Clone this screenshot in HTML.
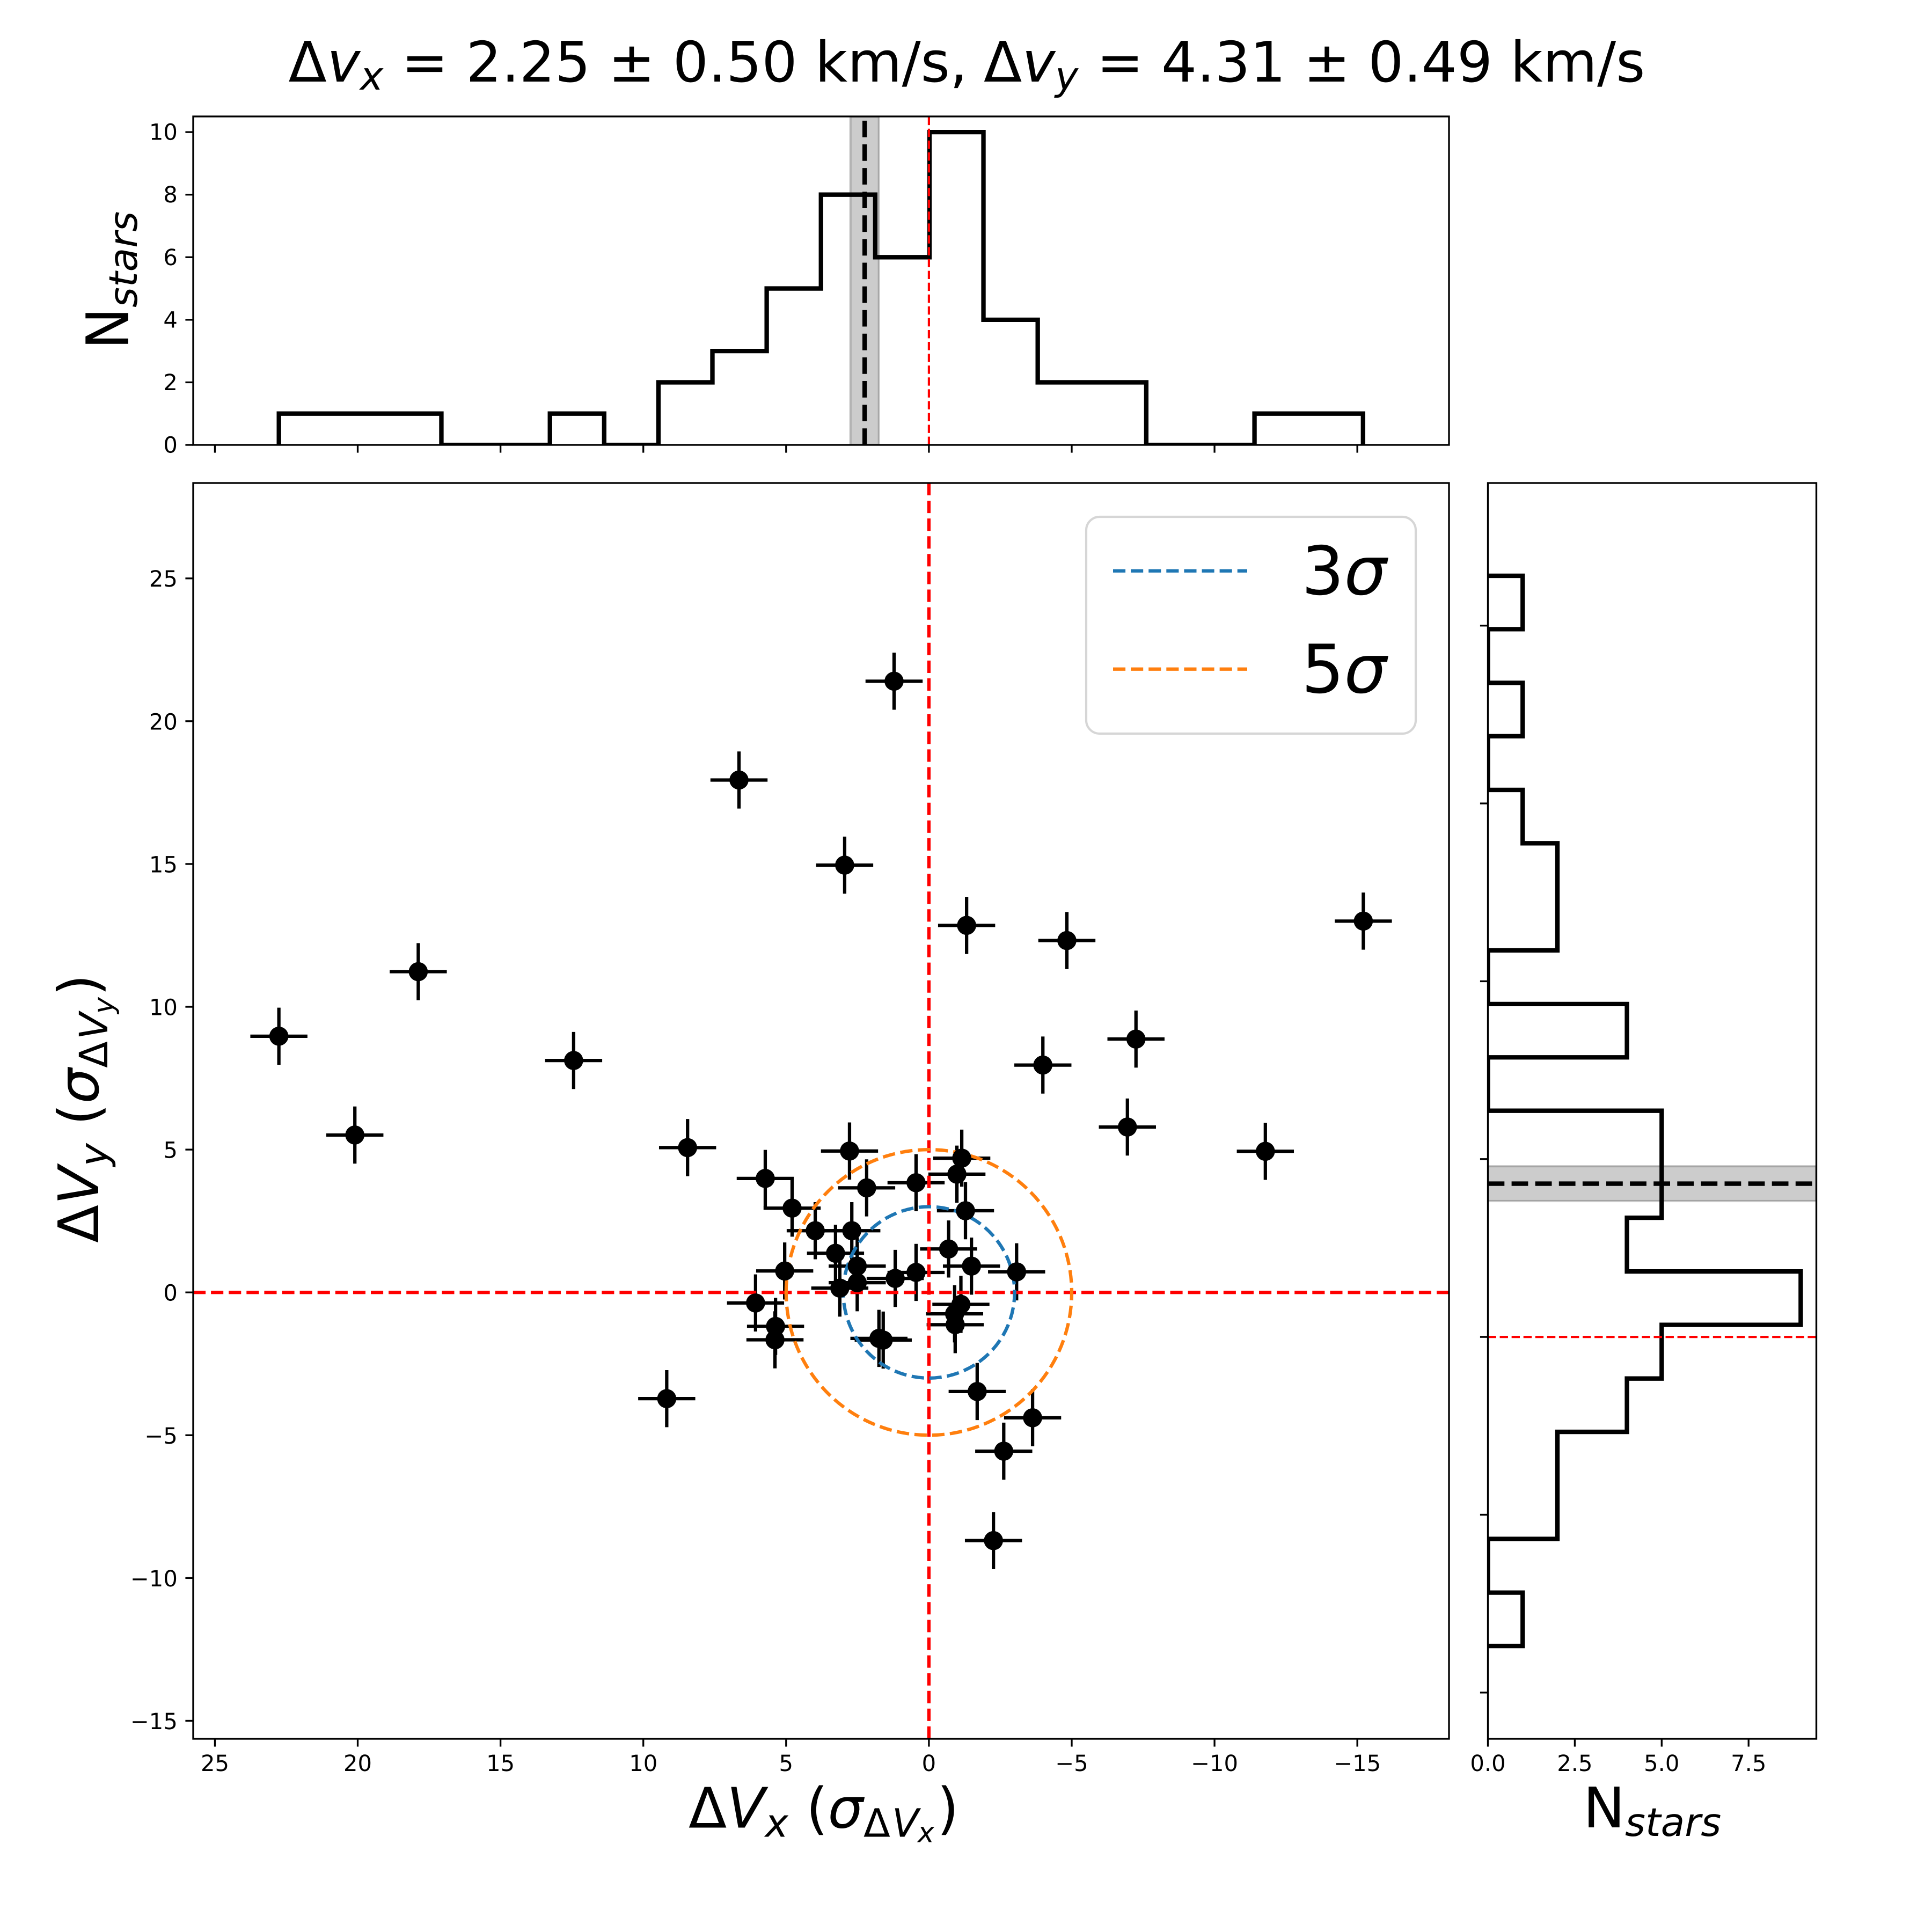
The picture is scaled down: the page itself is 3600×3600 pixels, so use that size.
<!DOCTYPE html>
<html lang="en">
<head>
<meta charset="utf-8">
<title>Velocity offset chart</title>
<style>
html,body{margin:0;padding:0;background:#fff;}
svg{display:block;}
text{font-family:"DejaVu Sans","Liberation Sans",sans-serif;fill:#000;text-rendering:geometricPrecision;}
.i{font-style:italic;}
.tick{font-size:41.67px;}
.big{font-size:104.17px;}
.sub{font-size:72.92px;}
.subsub{font-size:52px;}
</style>
</head>
<body>
<svg id="fig" xmlns="http://www.w3.org/2000/svg" width="3600" height="3600" viewBox="0 0 3600 3600">
  <rect x="0" y="0" width="3600" height="3600" fill="#fff"/>
  <defs>
    <clipPath id="clip-top"><rect x="360" y="217" width="2340" height="612"/></clipPath>
    <clipPath id="clip-main"><rect x="360" y="900" width="2340" height="2340"/></clipPath>
    <clipPath id="clip-right"><rect x="2772.5" y="900" width="612" height="2340"/></clipPath>
  </defs>

  <text class="big" y="152" xml:space="preserve"><tspan x="537.5">Δ</tspan><tspan class="i" x="609.5">v</tspan><tspan class="i sub" x="671" y="167">x</tspan><tspan x="748" y="152">= 2.25 ± 0.50 km/s,</tspan><tspan x="1833">Δ</tspan><tspan class="i" x="1904.6">v</tspan><tspan class="i sub" x="1966" y="167">y</tspan><tspan x="2043.5" y="152">= 4.31 ± 0.49 km/s</tspan></text>

  <g id="top-axes"></g>
  <g id="main-axes"></g>
  <g id="right-axes"></g>

  <g>
    <rect x="2024" y="963" width="614" height="404" rx="25" ry="25" fill="#fff" fill-opacity="0.8" stroke="#d6d6d6" stroke-width="4.17"/>
    <line x1="2074" y1="1063.7" x2="2324" y2="1063.7" stroke="#1f77b4" stroke-width="6.25" stroke-dasharray="23.1 10"/>
    <line x1="2074" y1="1246.7" x2="2324" y2="1246.7" stroke="#ff7f0e" stroke-width="6.25" stroke-dasharray="23.1 10"/>
    <text font-size="125" y="1107.5"><tspan x="2425">3</tspan><tspan class="i" x="2504.5">σ</tspan></text>
    <text font-size="125" y="1290.7"><tspan x="2425">5</tspan><tspan class="i" x="2504.5">σ</tspan></text>
  </g>

  <text class="big" transform="translate(1283,3405.6)"><tspan x="0" y="0">Δ</tspan><tspan class="i" x="71.3" y="0">V</tspan><tspan class="i sub" x="142.6" y="17">x</tspan><tspan x="219" y="0">(</tspan><tspan class="i" x="259.5" y="0">σ</tspan><tspan class="sub" x="326" y="17">Δ</tspan><tspan class="i sub" x="379" y="17">V</tspan><tspan class="i subsub" x="427" y="27">x</tspan><tspan x="463" y="0">)</tspan></text>

  <text class="big" transform="translate(183,2316) rotate(-90)"><tspan x="0" y="0">Δ</tspan><tspan class="i" x="71.3" y="0">V</tspan><tspan class="i sub" x="142.6" y="17">y</tspan><tspan x="219" y="0">(</tspan><tspan class="i" x="259.5" y="0">σ</tspan><tspan class="sub" x="326" y="17">Δ</tspan><tspan class="i sub" x="379" y="17">V</tspan><tspan class="i subsub" x="427" y="28">y</tspan><tspan x="460" y="0">)</tspan></text>

  <g>
    <text class="big" transform="translate(239,651) rotate(-90) scale(1,1.05)">N</text>
    <text class="i sub" transform="translate(255,573) rotate(-90)">stars</text>
  </g>

  <text class="big" transform="translate(2950,3405)"><tspan x="0" y="0">N</tspan><tspan class="i sub" x="78" y="16">stars</tspan></text>
</svg>

<script>
// ---- data ----
const starsDvx = [2.78,5.73,2.18,0.45,-1.15,-0.98,4.79,-1.28,3.98,2.70,3.27,-0.69,-1.49,-3.07,2.51,0.45,1.18,5.05,2.51,3.12,6.07,-1.12,-0.90,-0.92,5.37,5.39,1.75,1.60,-1.69,-3.63,-2.62,22.76,20.10,17.88,12.44,8.45,9.18,6.65,2.95,1.22,-1.32,-4.83,-3.99,-7.25,-6.95,-11.78,-15.21,-2.26];
const starsDvy = [4.95,3.99,3.66,3.84,4.70,4.14,2.95,2.86,2.16,2.16,1.37,1.52,0.92,0.72,0.92,0.70,0.49,0.75,0.34,0.15,-0.37,-0.42,-0.75,-1.13,-1.19,-1.66,-1.61,-1.67,-3.47,-4.39,-5.56,8.97,5.51,11.23,8.12,5.07,-3.72,17.94,14.96,21.40,12.85,12.32,7.96,8.87,5.79,4.94,13.00,-8.69];
const starError = [1.0];
const sigmaRadii = [3, 5];
const sigmaColors = ['#1f77b4', '#ff7f0e'];
const sigmaNames = ['3-sigma-circle', '5-sigma-circle'];

const histXEdges = [22.76,20.86,18.97,17.07,15.17,13.27,11.37,9.47,7.58,5.68,3.78,1.88,-0.02,-1.91,-3.81,-5.71,-7.61,-9.51,-11.40,-13.30,-15.20];
const histXCounts = [1,1,1,0,0,1,0,2,3,5,8,6,10,4,2,2,0,0,1,1];
const histYEdges = [-8.69,-7.19,-5.68,-4.18,-2.67,-1.17,0.34,1.84,3.35,4.85,6.36,7.86,9.36,10.87,12.37,13.88,15.38,16.89,18.39,19.90,21.40];
const histYCounts = [1,0,2,2,4,5,9,4,5,5,0,4,0,2,2,1,0,1,0,1];

const meanDvx = [2.25];
const errDvx = [0.50];
const meanDvy = [4.31];
const errDvy = [0.49];

const xTicks = [25,20,15,10,5,0,-5,-10,-15];
const yTicks = [-15,-10,-5,0,5,10,15,20,25];
const topYTicks = [0,2,4,6,8,10];
const rightXTicks = [0,2.5,5,7.5];
const rightXTickLabels = ['0.0','2.5','5.0','7.5'];
const rightYTicks = [-10,-5,0,5,10,15,20];

// ---- axis functions ----
const MAIN = {l:360, r:2700, t:900, b:3240};
const TOP = {l:360, r:2700, t:217, b:829};
const RIGHT = {l:2772.5, r:3384.5, t:900, b:3240};
const xLim = [25.76, -18.21];
const yLim = [-15.63, 28.34];
const topYLim = [0, 10.5];
const rightXLim = [0, 9.45];
const rightYLim = [-11.3, 24.01];

function sx(v){ return MAIN.l + (v - xLim[0]) / (xLim[1] - xLim[0]) * (MAIN.r - MAIN.l); }
function sy(v){ return MAIN.b - (v - yLim[0]) / (yLim[1] - yLim[0]) * (MAIN.b - MAIN.t); }
function topY(v){ return TOP.b - (v - topYLim[0]) / (topYLim[1] - topYLim[0]) * (TOP.b - TOP.t); }
function rightX(v){ return RIGHT.l + (v - rightXLim[0]) / (rightXLim[1] - rightXLim[0]) * (RIGHT.r - RIGHT.l); }
function rightY(v){ return RIGHT.b - (v - rightYLim[0]) / (rightYLim[1] - rightYLim[0]) * (RIGHT.b - RIGHT.t); }

const NS = 'http://www.w3.org/2000/svg';
function mk(parent, tag, props){
  const e = document.createElementNS(NS, tag);
  for (const k in props) e.setAttribute(k, props[k]);
  parent.appendChild(e);
  return e;
}
function fmt(v){ return String(v).replace('-', '\u2212'); }

const TICK = 14.58, TICKW = 3.33, PAD = 14.58;

const topG = document.getElementById('top-axes');
const mainG = document.getElementById('main-axes');
const rightG = document.getElementById('right-axes');

// ---- top histogram ----
const band = mk(topG, 'rect', {x:Math.min(sx(meanDvx[0]-errDvx[0]),sx(meanDvx[0]+errDvx[0])), y:TOP.t, width:Math.abs(sx(meanDvx[0]-errDvx[0])-sx(meanDvx[0]+errDvx[0])), height:TOP.b-TOP.t, fill:'#000','fill-opacity':0.2, stroke:'#000','stroke-opacity':0.2,'stroke-width':4.17,'clip-path':'url(#clip-top)'});



let dTop = 'M' + sx(histXEdges[0]) + ' ' + topY(0);
histXCounts.forEach(function(c, i){
  dTop += ' L' + sx(histXEdges[i]) + ' ' + topY(c) + ' L' + sx(histXEdges[i+1]) + ' ' + topY(c);
});
dTop += ' L' + sx(histXEdges[histXEdges.length-1]) + ' ' + topY(0);
const topHist = mk(topG, 'path', {d:dTop, fill:'none', stroke:'#000','stroke-width':8.33,'stroke-linejoin':'miter','clip-path':'url(#clip-top)'});



const topMean = mk(topG, 'line', {x1:sx(meanDvx[0]), y1:TOP.b, x2:sx(meanDvx[0]), y2:TOP.t, stroke:'#000','stroke-width':8.33,'stroke-dasharray':'30.8 13.3','clip-path':'url(#clip-top)'});



const topZero = mk(topG, 'line', {x1:sx(0), y1:TOP.b, x2:sx(0), y2:TOP.t, stroke:'#f00','stroke-width':4.17,'stroke-dasharray':'15.4 6.67','clip-path':'url(#clip-top)'});



xTicks.forEach(function(t){
  const m = mk(topG, 'line', {x1:sx(t), y1:TOP.b, x2:sx(t), y2:TOP.b+TICK, stroke:'#000','stroke-width':TICKW});
  
  
});
topYTicks.forEach(function(t){
  const m = mk(topG, 'line', {x1:TOP.l-TICK, y1:topY(t), x2:TOP.l, y2:topY(t), stroke:'#000','stroke-width':TICKW});
  
  
  const l = mk(topG, 'text', {x:TOP.l-TICK-PAD, y:topY(t)+14.5,'text-anchor':'end','class':'tick'});
  
  
  l.textContent = fmt(t);
});
const topFrame = mk(topG, 'rect', {x:TOP.l, y:TOP.t, width:TOP.r-TOP.l, height:TOP.b-TOP.t, fill:'none', stroke:'#000','stroke-width':TICKW});



// ---- main scatter ----
starsDvx.forEach(function(vx, i){
  const vy = starsDvy[i];
  const h = mk(mainG, 'line', {x1:sx(vx-starError[0]), y1:sy(vy), x2:sx(vx+starError[0]), y2:sy(vy), stroke:'#000','stroke-width':6.25,'clip-path':'url(#clip-main)'});
  
  
  const v = mk(mainG, 'line', {x1:sx(vx), y1:sy(vy-starError[0]), x2:sx(vx), y2:sy(vy+starError[0]), stroke:'#000','stroke-width':6.25,'clip-path':'url(#clip-main)'});
  
  
});

const mainZeroV = mk(mainG, 'line', {x1:sx(0), y1:MAIN.b, x2:sx(0), y2:MAIN.t, stroke:'#f00','stroke-width':6.25,'stroke-dasharray':'23.1 10','clip-path':'url(#clip-main)'});


const mainZeroH = mk(mainG, 'line', {x1:MAIN.l, y1:sy(0), x2:MAIN.r, y2:sy(0), stroke:'#f00','stroke-width':6.25,'stroke-dasharray':'23.1 10','clip-path':'url(#clip-main)'});



sigmaRadii.forEach(function(r, i){
  const rx = Math.abs(sx(r) - sx(0));
  const ry = Math.abs(sy(r) - sy(0));
  const d = 'M' + sx(r) + ' ' + sy(0) + ' A' + rx + ' ' + ry + ' 0 1 1 ' + sx(-r) + ' ' + sy(0) + ' A' + rx + ' ' + ry + ' 0 1 1 ' + sx(r) + ' ' + sy(0);
  const c = mk(mainG, 'path', {d:d, fill:'none', stroke:sigmaColors[i],'stroke-width':6.25,'stroke-dasharray':'23.1 10','clip-path':'url(#clip-main)'});
  
  
});

starsDvx.forEach(function(vx, i){
  const p = mk(mainG, 'circle', {cx:sx(vx), cy:sy(starsDvy[i]), r:17.8, fill:'#000','clip-path':'url(#clip-main)'});
  
  
});

xTicks.forEach(function(t){
  const m = mk(mainG, 'line', {x1:sx(t), y1:MAIN.b, x2:sx(t), y2:MAIN.b+TICK, stroke:'#000','stroke-width':TICKW});
  
  
  const l = mk(mainG, 'text', {x:sx(t), y:3300,'text-anchor':'middle','class':'tick'});
  
  
  l.textContent = fmt(t);
});
yTicks.forEach(function(t){
  const m = mk(mainG, 'line', {x1:MAIN.l-TICK, y1:sy(t), x2:MAIN.l, y2:sy(t), stroke:'#000','stroke-width':TICKW});
  
  
  const l = mk(mainG, 'text', {x:MAIN.l-TICK-PAD, y:sy(t)+15.5,'text-anchor':'end','class':'tick'});
  
  
  l.textContent = fmt(t);
});
const mainFrame = mk(mainG, 'rect', {x:MAIN.l, y:MAIN.t, width:MAIN.r-MAIN.l, height:MAIN.b-MAIN.t, fill:'none', stroke:'#000','stroke-width':TICKW});



// ---- right histogram ----
const bandY = mk(rightG, 'rect', {x:RIGHT.l, y:rightY(meanDvy[0]+errDvy[0]), width:RIGHT.r-RIGHT.l, height:rightY(meanDvy[0]-errDvy[0])-rightY(meanDvy[0]+errDvy[0]), fill:'#000','fill-opacity':0.2, stroke:'#000','stroke-opacity':0.2,'stroke-width':4.17,'clip-path':'url(#clip-right)'});



let dRight = 'M' + rightX(0) + ' ' + rightY(histYEdges[0]);
histYCounts.forEach(function(c, i){
  dRight += ' L' + rightX(c) + ' ' + rightY(histYEdges[i]) + ' L' + rightX(c) + ' ' + rightY(histYEdges[i+1]);
});
dRight += ' L' + rightX(0) + ' ' + rightY(histYEdges[histYEdges.length-1]);
const rightHist = mk(rightG, 'path', {d:dRight, fill:'none', stroke:'#000','stroke-width':8.33,'stroke-linejoin':'miter','clip-path':'url(#clip-right)'});



const rightMean = mk(rightG, 'line', {x1:RIGHT.l, y1:rightY(meanDvy[0]), x2:RIGHT.r, y2:rightY(meanDvy[0]), stroke:'#000','stroke-width':8.33,'stroke-dasharray':'30.8 13.3','clip-path':'url(#clip-right)'});



const rightZero = mk(rightG, 'line', {x1:RIGHT.l, y1:rightY(0), x2:RIGHT.r, y2:rightY(0), stroke:'#f00','stroke-width':4.17,'stroke-dasharray':'15.4 6.67','clip-path':'url(#clip-right)'});



rightXTicks.forEach(function(t, i){
  const m = mk(rightG, 'line', {x1:rightX(t), y1:RIGHT.b, x2:rightX(t), y2:RIGHT.b+TICK, stroke:'#000','stroke-width':TICKW});
  
  
  const l = mk(rightG, 'text', {x:rightX(t), y:3300,'text-anchor':'middle','class':'tick'});
  
  
  l.textContent = rightXTickLabels[i];
});
rightYTicks.forEach(function(t){
  const m = mk(rightG, 'line', {x1:RIGHT.l-TICK, y1:rightY(t), x2:RIGHT.l, y2:rightY(t), stroke:'#000','stroke-width':TICKW});
  
  
});
const rightFrame = mk(rightG, 'rect', {x:RIGHT.l, y:RIGHT.t, width:RIGHT.r-RIGHT.l, height:RIGHT.b-RIGHT.t, fill:'none', stroke:'#000','stroke-width':TICKW});


</script>
</body>
</html>
